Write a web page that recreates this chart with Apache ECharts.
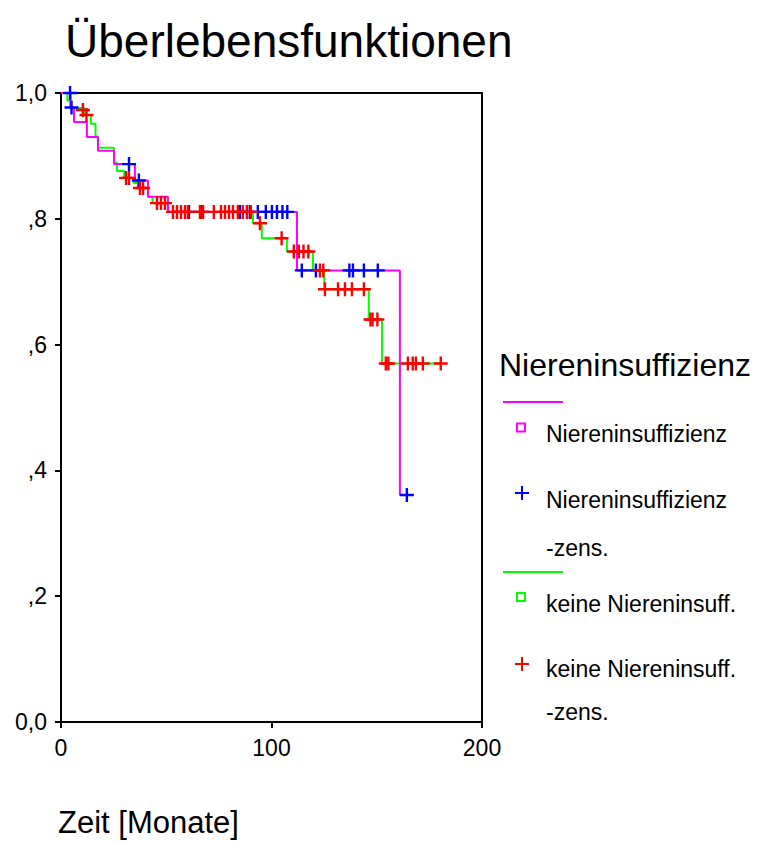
<!DOCTYPE html>
<html>
<head>
<meta charset="utf-8">
<script src="https://cdn.jsdelivr.net/npm/echarts@6/dist/echarts.min.js"></script>
<style>
html,body{margin:0;padding:0;background:#fff;}
#chart{width:758px;height:842px;}
</style>
</head>
<body>
<div id="chart"></div>
<script>
// ---- Data ----
const chartTitle = 'Überlebensfunktionen';
const xAxisTitle = 'Zeit [Monate]';
const legendTitle = 'Niereninsuffizienz';
const xTickValues = [0, 100, 200];
const yTickValues = [0, 0.2, 0.4, 0.6, 0.8, 1.0];
const yTickLabels = ['0,0', ',2', ',4', ',6', ',8', '1,0'];

const seriesNames = ['Niereninsuffizienz', 'Niereninsuffizienz\n-zens.', 'keine Niereninsuff.', 'keine Niereninsuff.\n-zens.'];

// Kaplan-Meier step curve, group "Niereninsuffizienz" [month, survival]
const niStep = [[0,1.0],[4.5,0.977],[6.2,0.954],[12.3,0.930],[17.6,0.908],[25.2,0.887],[35.1,0.861],[41.3,0.835],[50.8,0.811],[112.1,0.718],[161.0,0.361],[164.3,0.361]];
// censored cases, group "Niereninsuffizienz"
const niCens = [[4.3,1.0],[5.0,0.977],[32.3,0.887],[37.0,0.861],[60.8,0.811],[67.0,0.811],[85.0,0.811],[89.7,0.811],[93.5,0.811],[97.3,0.811],[100.2,0.811],[102.6,0.811],[105.2,0.811],[107.5,0.811],[114.4,0.718],[121.1,0.718],[137.0,0.718],[138.7,0.718],[143.9,0.718],[150.5,0.718],[164.3,0.361]];
// Kaplan-Meier step curve, group "keine Niereninsuff."
const kniStep = [[0,1.0],[3.0,0.988],[4.5,0.976],[11.2,0.965],[14.2,0.951],[16.4,0.931],[17.6,0.913],[25.2,0.889],[26.6,0.876],[30.0,0.865],[34.5,0.857],[36.5,0.849],[41.5,0.835],[43.5,0.825],[51.0,0.811],[91.2,0.793],[95.4,0.769],[107.3,0.748],[119.7,0.718],[125.1,0.688],[146.2,0.640],[152.5,0.570],[180.4,0.570]];
// censored cases, group "keine Niereninsuff."
const kniCens = [[10.4,0.973],[12.1,0.965],[30.9,0.865],[32.3,0.865],[37.5,0.849],[39.0,0.849],[45.6,0.825],[47.5,0.825],[49.4,0.825],
  [53.2,0.811],[55.1,0.811],[57.0,0.811],[58.9,0.811],[60.3,0.811],[66.0,0.811],[67.5,0.811],[72.6,0.811],[76.0,0.811],[77.9,0.811],[79.8,0.811],[81.7,0.811],[84.0,0.811],[86.4,0.811],[88.3,0.811],[90.2,0.811],
  [94.5,0.793],[104.8,0.769],[110.6,0.748],[113.0,0.748],[115.2,0.748],[117.5,0.748],[123.0,0.718],[124.6,0.718],
  [125.4,0.688],[131.6,0.688],[134.9,0.688],[138.2,0.688],[143.9,0.688],[147.0,0.640],[148.0,0.640],[150.3,0.640],
  [154.3,0.570],[155.5,0.570],[164.8,0.570],[167.1,0.570],[168.6,0.570],[171.9,0.570],[180.4,0.570]];

// ---- Styling ----
const FONT = '"Liberation Sans", Arial, Helvetica, sans-serif';
const MAGENTA = '#ff00ff', BLUE = '#0000ff', GREEN = '#00ff00', RED = '#ff0000';
const PLUS = 'path://M5.8,0 H8.2 V5.8 H14 V8.2 H8.2 V14 H5.8 V8.2 H0 V5.8 H5.8 Z';

const chart = echarts.init(document.getElementById('chart'), null, {renderer: 'svg'});

function plusGraphic(cx, cy, color) {
  return {type: 'group', children: [
    {type: 'line', shape: {x1: cx - 7, y1: cy, x2: cx + 7, y2: cy}, style: {stroke: color, lineWidth: 2}},
    {type: 'line', shape: {x1: cx, y1: cy - 7, x2: cx, y2: cy + 7}, style: {stroke: color, lineWidth: 2}}
  ]};
}
function txt(x, y, s, size, align) {
  return {type: 'text', x: x, y: y, style: {text: s, font: size + 'px ' + FONT, fill: '#000', textAlign: align || 'left', textVerticalAlign: 'middle'}};
}

const option = {
  backgroundColor: '#fff',
  animation: false,
  title: {
    text: chartTitle, left: 60, top: 13,
    textStyle: {fontFamily: FONT, fontSize: 46, fontWeight: 'normal', color: '#000'}
  },
  grid: {left: 61, top: 93, right: 276, bottom: 120, show: true, borderColor: '#000', borderWidth: 2, backgroundColor: '#fff'},
  xAxis: {
    type: 'value', min: xTickValues[0], max: xTickValues[xTickValues.length - 1], interval: 100,
    axisLine: {show: true, lineStyle: {color: '#000', width: 2}},
    axisTick: {show: true, length: 6, lineStyle: {color: '#000', width: 2}},
    splitLine: {show: false},
    axisLabel: {margin: 14, fontFamily: FONT, fontSize: 23, color: '#000'}
  },
  yAxis: {
    type: 'value', min: 0, max: 1, interval: 0.2,
    axisLine: {show: true, lineStyle: {color: '#000', width: 2}},
    axisTick: {show: true, length: 6, lineStyle: {color: '#000', width: 2}},
    splitLine: {show: false},
    axisLabel: {
      margin: 14, fontFamily: FONT, fontSize: 23, color: '#000',
      formatter: function (v) {
        const i = yTickValues.findIndex(t => Math.abs(t - v) < 1e-6);
        return i >= 0 ? yTickLabels[i] : '';
      }
    }
  },
  series: [
    {name: seriesNames[2], type: 'line', step: 'end', data: kniStep, showSymbol: false, symbol: 'none', z: 2,
     lineStyle: {color: GREEN, width: 2}, itemStyle: {color: GREEN}},
    {name: seriesNames[0], type: 'line', step: 'end', data: niStep, showSymbol: false, symbol: 'none', z: 3,
     lineStyle: {color: MAGENTA, width: 2}, itemStyle: {color: MAGENTA}},
    {name: seriesNames[1], type: 'scatter', data: niCens, symbol: PLUS, symbolSize: 14, z: 4,
     itemStyle: {color: BLUE, opacity: 1}},
    {name: seriesNames[3], type: 'scatter', data: kniCens, symbol: PLUS, symbolSize: 14, z: 5,
     itemStyle: {color: RED, opacity: 1}}
  ],
  graphic: [
    txt(58, 822, xAxisTitle, 31),
    txt(499, 365, legendTitle, 32),
    {type: 'line', shape: {x1: 503, y1: 402, x2: 563, y2: 402}, style: {stroke: MAGENTA, lineWidth: 2}},
    {type: 'rect', shape: {x: 517, y: 423.5, width: 8, height: 8}, style: {fill: 'none', stroke: MAGENTA, lineWidth: 2}},
    txt(546, 434, seriesNames[0], 23),
    plusGraphic(522, 493, BLUE),
    txt(546, 500, 'Niereninsuffizienz', 23),
    txt(546, 548, '-zens.', 23),
    {type: 'line', shape: {x1: 503, y1: 572, x2: 563, y2: 572}, style: {stroke: GREEN, lineWidth: 2}},
    {type: 'rect', shape: {x: 517, y: 593, width: 8, height: 8}, style: {fill: 'none', stroke: GREEN, lineWidth: 2}},
    txt(546, 604, seriesNames[2], 23),
    plusGraphic(522, 664, RED),
    txt(546, 669, 'keine Niereninsuff.', 23),
    txt(546, 712, '-zens.', 23)
  ]
};
chart.setOption(option);
</script>
</body>
</html>
